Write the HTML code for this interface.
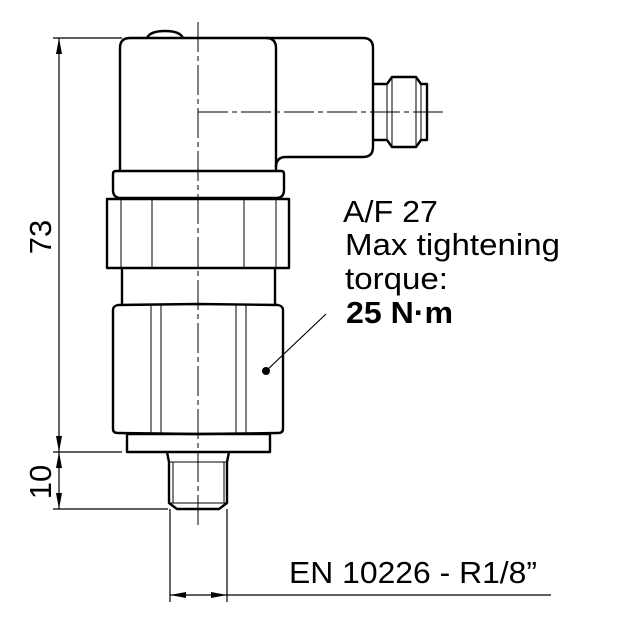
<!DOCTYPE html>
<html><head><meta charset="utf-8"><style>
html,body{margin:0;padding:0;background:#fff;}
svg{display:block;}
text{font-family:"Liberation Sans",Arial,sans-serif;fill:#000;}
</style></head><body>
<svg width="617" height="622" viewBox="0 0 617 622" xmlns="http://www.w3.org/2000/svg">
<rect width="617" height="622" fill="#fff"/>
<!-- centerlines -->
<g stroke="#000" stroke-width="1" fill="none">
<line x1="198" y1="22" x2="198" y2="527" stroke-dasharray="30 4 5 4"/>
<line x1="198" y1="112" x2="445" y2="112" stroke-dasharray="30 4 5 4"/>
</g>
<!-- dimension lines -->
<g stroke="#000" stroke-width="1.2" fill="none">
<line x1="53" y1="38" x2="122" y2="38"/>
<line x1="53" y1="452" x2="122" y2="452"/>
<line x1="53" y1="509" x2="168" y2="509"/>
<line x1="59" y1="38" x2="59" y2="509"/>
<line x1="170" y1="509" x2="170" y2="602"/>
<line x1="227" y1="509" x2="227" y2="602"/>
<line x1="170" y1="595" x2="551" y2="595"/>
<line x1="266" y1="371" x2="326" y2="314"/>
</g>
<g fill="#000">
<polygon points="59,38 56,54 62,54"/>
<polygon points="59,452 56,436 62,436"/>
<polygon points="59,452 56,468 62,468"/>
<polygon points="59,509 56,493 62,493"/>
<polygon points="170,595 186,592 186,598"/>
<polygon points="227,595 211,592 211,598"/>
<circle cx="266" cy="371" r="4"/>
</g>
<!-- body -->
<g stroke="#000" stroke-width="2.4" fill="none" stroke-linejoin="round">
<path d="M147,38 Q150,31 165,31 Q180,31 183,38"/>
<path d="M120,171 L120,48 Q120,38 130,38 L266,38 Q276,38 276,48 L276,171"/>
<path d="M266,38 L363,38 Q373,38 373,48 L373,147 Q373,157 363,157 L286,157 Q276,157 276,167"/>
<path d="M373,84 L387,84 M373,140 L387,140"/>
<path d="M387,84 L392,77 L416,77 L421,84 L427,84 L427,140 L421,140 L416,147 L392,147 L387,140"/>
<path d="M116,171 L281,171 Q284,171 284,174 L284,190 Q284,198 276,198 L121,198 Q113,198 113,190 L113,174 Q113,171 116,171 Z"/>
<rect x="107" y="199" width="182" height="69"/>
<path d="M122,268 L122,305 M275,268 L275,305"/>
<path d="M113,429 L113,310 Q113,306 118,305 L198,304 L278,305 Q283,306 283,310 L283,429 Q283,433 278,433 L198,434 L118,433 Q113,433 113,429 Z"/>
<rect x="127" y="434" width="143" height="18"/>
<path d="M167,452 L169,462 L169,503 L177,509 L219,509 L227,503 L227,462 L229,452"/>
</g>
<g stroke="#000" stroke-width="1" fill="none">
<path d="M387,84 L387,140 M392,77 L392,147 M416,77 L416,147 M421,84 L421,140"/>
<path d="M121,199 L121,268 M152,199 L152,268 M244,199 L244,268 M276,199 L276,268"/>
<path d="M151,305 L151,433 M161,305 L161,433 M236,305 L236,433 M246,305 L246,433"/>
<path d="M169,462 L227,462 M173,462 L173,503 M224,462 L224,503 M169,503 L227,503"/>
</g>
<!-- labels -->
<text x="51" y="237" font-size="31" text-anchor="middle" transform="rotate(-90 51 237)">73</text>
<text x="51" y="482" font-size="31" text-anchor="middle" transform="rotate(-90 51 482)">10</text>
<text x="343" y="222" font-size="31" textLength="95" lengthAdjust="spacingAndGlyphs">A/F 27</text>
<text x="345" y="255" font-size="31" textLength="215" lengthAdjust="spacingAndGlyphs">Max tightening</text>
<text x="345" y="289" font-size="31" textLength="103" lengthAdjust="spacingAndGlyphs">torque:</text>
<text x="346" y="323" font-size="31" font-weight="bold" textLength="107" lengthAdjust="spacingAndGlyphs">25 N·m</text>
<text x="289" y="583" font-size="31" textLength="248" lengthAdjust="spacingAndGlyphs">EN 10226 - R1/8”</text>
</svg>
</body></html>
